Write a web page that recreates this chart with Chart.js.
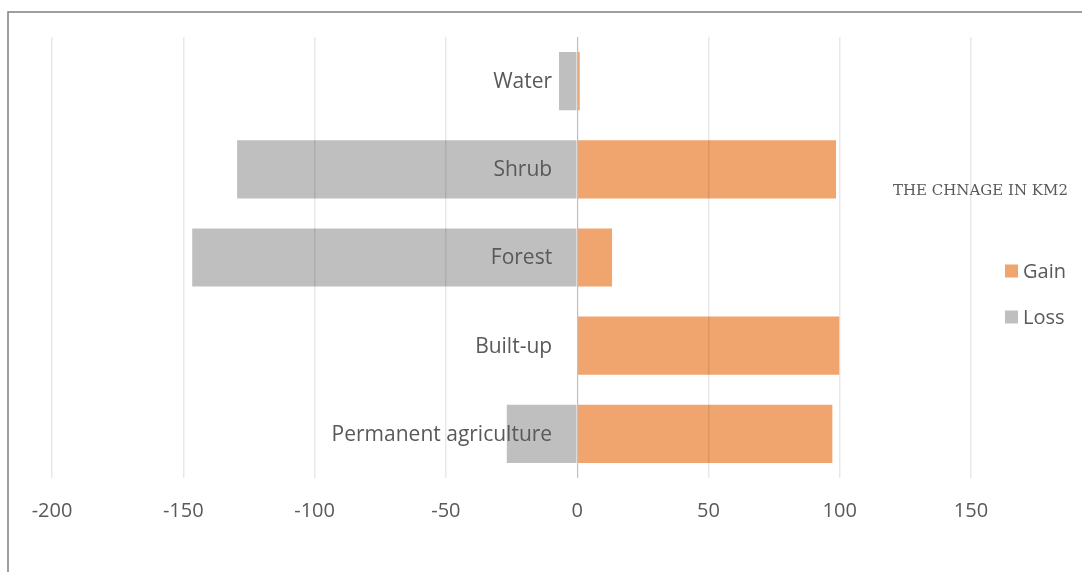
<!DOCTYPE html>
<html>
<head>
<meta charset="utf-8">
<script src="https://cdn.jsdelivr.net/npm/chart.js@4"></script>
<style>
  html, body { margin: 0; padding: 0; background: #ffffff; }
  #wrap { width: 1082px; height: 572px; position: relative; }
</style>
</head>
<body>
<div id="wrap"><canvas id="c" width="1082" height="572"></canvas></div>
<script>
// Land-cover classes, top to bottom
const categories = ['Water', 'Shrub', 'Forest', 'Built-up', 'Permanent agriculture'];
// Change in km2 per class
const gainValues = [1.0, 98.6, 13.3, 99.8, 97.2];
const lossValues = [-6.9, -129.5, -146.6, 0, -26.8];
const xTicks = [-200, -150, -100, -50, 0, 50, 100, 150];
const chartTitle = 'THE CHNAGE IN KM2';
const seriesNames = ['Gain', 'Loss'];

const ORANGE = '#F0A46E';
const GREY = '#BFBFBF';
const TEXT = '#595959';
const SANS = '"Open Sans", "Noto Sans", sans-serif';

// Outer frame, category labels at the zero line, title and legend
const decor = {
  id: 'decor',
  beforeDraw(chart) {
    const ctx = chart.ctx;
    ctx.save();
    ctx.fillStyle = '#ffffff';
    ctx.fillRect(0, 0, chart.width, chart.height);
    ctx.strokeStyle = '#7F7F7F';
    ctx.lineWidth = 1.5;
    ctx.strokeRect(8, 12, 2000, 2000);
    ctx.restore();
  },
  afterDraw(chart) {
    const ctx = chart.ctx;
    const x = chart.scales.x, y = chart.scales.y;
    const x0 = x.getPixelForValue(0);
    ctx.save();
    ctx.fillStyle = TEXT;
    ctx.font = '21px ' + SANS;
    ctx.textAlign = 'right';
    ctx.textBaseline = 'middle';
    categories.forEach((c, i) => {
      ctx.fillText(c, x0 - 25, y.getPixelForValue(i) + 1);
    });

    // title
    ctx.font = '15px "DejaVu Serif", "Liberation Serif", serif';
    ctx.textAlign = 'left';
    ctx.fillText(chartTitle, 893, 191);

    // legend
    const colors = [ORANGE, GREY];
    ctx.font = '20px ' + SANS;
    seriesNames.forEach((n, i) => {
      const cy = 271 + i * 46;
      ctx.fillStyle = colors[i];
      ctx.fillRect(1005, cy - 6.5, 13, 13);
      ctx.fillStyle = TEXT;
      ctx.fillText(n, 1023, cy + 1);
    });
    ctx.restore();
  }
};

new Chart(document.getElementById('c'), {
  type: 'bar',
  data: {
    labels: categories,
    datasets: [
      { label: seriesNames[0], data: gainValues, backgroundColor: ORANGE, borderWidth: 0 },
      { label: seriesNames[1], data: lossValues, backgroundColor: GREY, borderWidth: 0 }
    ]
  },
  options: {
    indexAxis: 'y',
    responsive: false,
    animation: false,
    layout: { padding: { left: 52, right: 111, top: 37, bottom: 0 } },
    plugins: { legend: { display: false }, tooltip: { enabled: false }, title: { display: false } },
    datasets: { bar: { categoryPercentage: 0.66, barPercentage: 1.0 } },
    scales: {
      x: {
        stacked: true,
        min: -200, max: 150,
        afterBuildTicks(scale) { scale.ticks = xTicks.map(v => ({ value: v })); },
        afterFit(scale) { scale.height = 94; },
        border: { display: false },
        grid: {
          z: 1,
          drawTicks: false,
          lineWidth: (c) => (c.tick && c.tick.value === 0 ? 1.2 : 1.5),
          color: (c) => (c.tick && c.tick.value === 0 ? '#BFBFBF' : 'rgba(0,0,0,0.09)')
        },
        ticks: { color: TEXT, font: { family: SANS, size: 20 }, padding: 21, maxRotation: 0 }
      },
      y: {
        stacked: true,
        afterFit(scale) { scale.width = 0; },
        border: { display: false },
        grid: { display: false, drawTicks: false },
        ticks: { display: false }
      }
    }
  },
  plugins: [decor]
});
</script>
</body>
</html>
